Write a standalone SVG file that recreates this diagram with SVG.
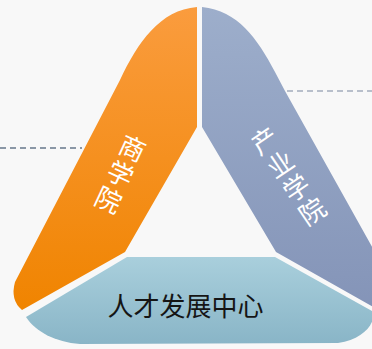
<svg xmlns="http://www.w3.org/2000/svg" width="372" height="349" viewBox="0 0 372 349">
  <defs>
    <linearGradient id="gOrange" x1="0" y1="0" x2="0" y2="1">
      <stop offset="0" stop-color="#FA9C3E"/>
      <stop offset="1" stop-color="#F08400"/>
    </linearGradient>
    <linearGradient id="gBlue" x1="0" y1="0" x2="0" y2="1">
      <stop offset="0" stop-color="#9DAECB"/>
      <stop offset="1" stop-color="#8393B7"/>
    </linearGradient>
    <linearGradient id="gTeal" x1="0" y1="0" x2="0" y2="1">
      <stop offset="0" stop-color="#A9CFDC"/>
      <stop offset="1" stop-color="#89B5C7"/>
    </linearGradient>
    <style>
      .lbl { font-family: "Noto Sans CJK SC", "Noto Sans", sans-serif; font-size: 26px; }
      .white { fill: #FFFFFF; }
      .dark { fill: #151515; }
      .vert { writing-mode: vertical-rl; text-anchor: middle; letter-spacing: 2.5px; }
      .dash { fill: none; stroke-width: 1.3; stroke-dasharray: 6 4; }
    </style>
  </defs>
  <rect width="372" height="349" fill="#F8F8F8"/>
  <g id="connectors">
    <line class="dash" x1="0" y1="148" x2="82" y2="148" stroke="#66778A"/>
    <line class="dash" x1="287" y1="91" x2="372" y2="91" stroke="#A3ACBC" stroke-dasharray="6 5"/>
  </g>
  <g id="node-shangxueyuan">
    <path d="M197,7 L197,127 L125,252 L22,310 Q10,300 15,282 L120,80 C138,42 160,10 197,7 Z" fill="url(#gOrange)"/>
    <text class="lbl white vert" transform="translate(120,175) rotate(25)" x="0" y="0">商学院</text>
  </g>
  <g id="node-chanyexueyuan">
    <path d="M202,7 L202,127 L276,252 L400,322 L420,322 L420,254 L376,254 L285,91 L275,72 C257,38 238,11 202,7 Z" fill="url(#gBlue)"/>
    <text class="lbl white vert" transform="translate(289,177) rotate(-34)" x="0" y="0">产业学院</text>
  </g>
  <g id="node-rencai">
    <path d="M127,257 L275,257 L374,312 C374,326 362,339 338,343 L80,344 C55,342 36,332 26,317 Z" fill="url(#gTeal)"/>
    <text class="lbl dark" x="185.5" y="316" text-anchor="middle">人才发展中心</text>
  </g>
</svg>
